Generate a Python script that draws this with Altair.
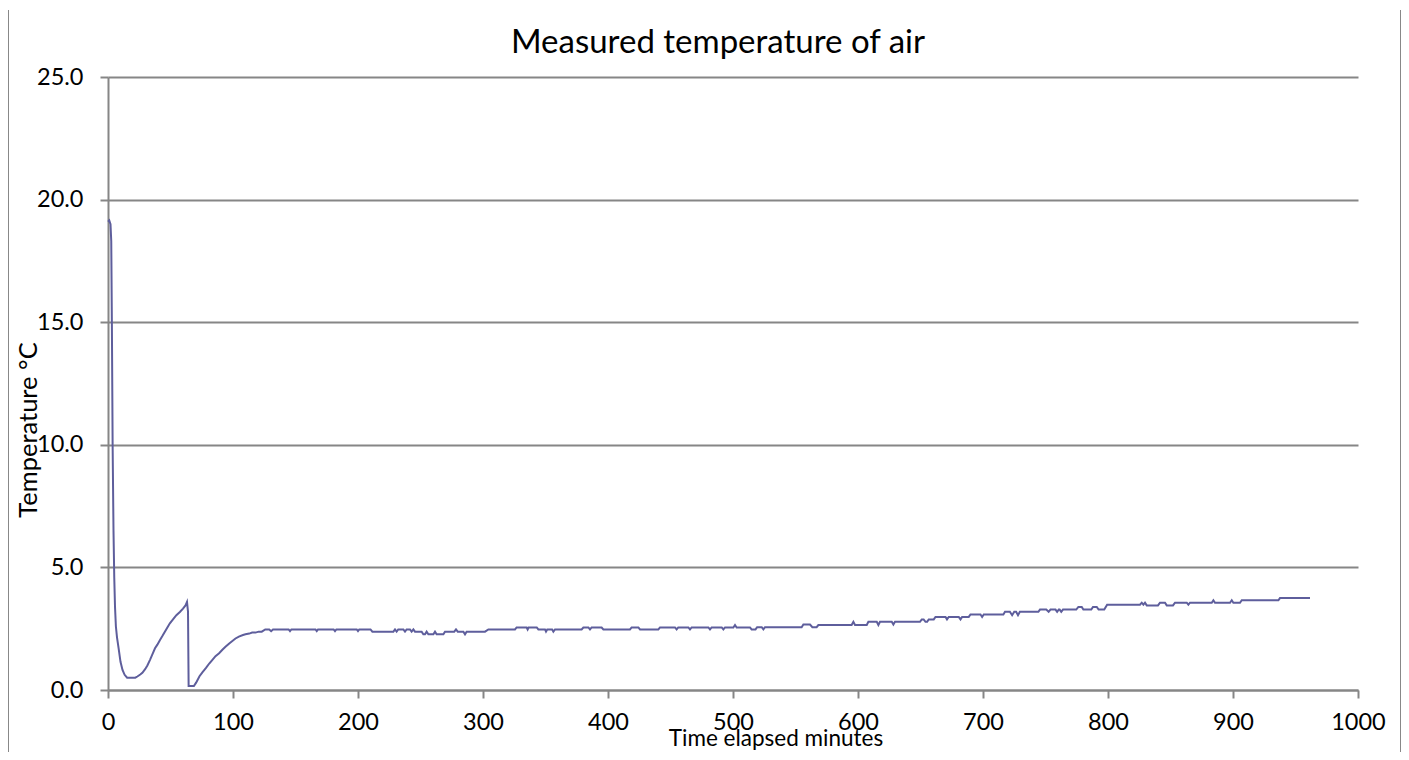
import altair as alt
import pandas as pd

# ---- data (minutes elapsed, temperature °C) ----
seg_cooldown = [
    [0, 19.1], [1, 19.15], [2, 19.0], [2.6, 18.3], [3.1, 15.0], [3.7, 10.0],
    [4.4, 6.5], [5.0, 4.6], [5.6, 3.4], [6.3, 2.6], [7.2, 2.15], [8.5, 1.7],
    [10.0, 1.15], [11.6, 0.82], [13.3, 0.62], [15.3, 0.5], [21.8, 0.5],
]
seg_first_rise = [
    [23.5, 0.55], [25.8, 0.63], [27.5, 0.7], [29.7, 0.85], [31.5, 1.0],
    [33.7, 1.24], [35.5, 1.45], [37.6, 1.7], [39.5, 1.85], [41.6, 2.04],
    [43.5, 2.2], [45.5, 2.38], [47.5, 2.55], [49.5, 2.72], [52, 2.88],
    [54.7, 3.05], [57.5, 3.18], [60, 3.32], [62, 3.45], [63.2, 3.59], [64.0, 3.2],
]
seg_recovery = [
    [64.5, 0.16], [68.7, 0.16], [70.5, 0.3], [73.2, 0.56], [75.5, 0.72],
    [78.4, 0.9], [81, 1.08], [83.7, 1.24], [86, 1.38], [88.9, 1.5],
    [91.5, 1.64], [94.2, 1.77], [97, 1.9], [99.5, 2.0], [102, 2.1],
    [104.7, 2.18], [108, 2.24], [110, 2.27], [113, 2.3], [115.3, 2.34],
    [118, 2.34], [120.5, 2.38], [123, 2.38], [125.8, 2.47], [129, 2.47],
]
seg_plateau = [
    [130.5, 2.4], [132, 2.47], [144.5, 2.47], [145.6, 2.4], [146.7, 2.47],
    [166, 2.47], [167, 2.4], [168, 2.47], [180.5, 2.47], [181.6, 2.4],
    [182.7, 2.47], [199, 2.47], [200, 2.4], [201, 2.47], [210, 2.47],
    [211.5, 2.38], [228.3, 2.38], [229.6, 2.47], [230.9, 2.38], [232.2, 2.47],
    [236.3, 2.47], [237.6, 2.38], [238.9, 2.47], [241.6, 2.47], [242.9, 2.38],
    [244.3, 2.47], [245.6, 2.38], [250.9, 2.38], [252.3, 2.27], [253.6, 2.27],
    [254.9, 2.38], [256.3, 2.27], [260.3, 2.27], [261.6, 2.38], [262.9, 2.27],
    [268.3, 2.27], [269.6, 2.38], [277, 2.38], [278.4, 2.47], [279.8, 2.38],
    [284.3, 2.38], [285.6, 2.27], [286.9, 2.38], [301.6, 2.38], [304.3, 2.47],
    [325.6, 2.47], [326.9, 2.55], [334.9, 2.55], [335.7, 2.47], [336.5, 2.55],
    [343, 2.55], [344.3, 2.47], [349.6, 2.47], [350.4, 2.38], [351.4, 2.47],
    [355.3, 2.47], [356.3, 2.38], [357.6, 2.47], [378.9, 2.47], [380.3, 2.55],
    [384.3, 2.55], [385.6, 2.47], [386.9, 2.55], [394.9, 2.55], [396.3, 2.47],
    [417.6, 2.47], [418.9, 2.55], [424.3, 2.55], [425.6, 2.47], [440.3, 2.47],
    [441.6, 2.55], [453.6, 2.55], [454.9, 2.47], [456.2, 2.55], [464.3, 2.55],
    [465.6, 2.47], [466.9, 2.55], [480.3, 2.55], [481.6, 2.47], [482.9, 2.55],
    [491, 2.55], [492.3, 2.47], [493.6, 2.55], [500.3, 2.55], [501.6, 2.65],
    [502.9, 2.55], [513.6, 2.55], [514.9, 2.47], [518, 2.47], [519.3, 2.56],
    [523, 2.56], [524.3, 2.47], [525.6, 2.56], [554.9, 2.56],
]
seg_slow_warm = [
    [556.3, 2.67], [561.6, 2.67], [563.5, 2.56], [566.9, 2.56], [568.3, 2.65],
    [594.9, 2.65], [596.3, 2.78], [597.6, 2.65], [607, 2.65], [608.3, 2.78],
    [615, 2.78], [616.3, 2.65], [617.6, 2.78], [627, 2.78], [628.3, 2.67],
    [629.6, 2.78], [649.6, 2.78], [651, 2.88], [652.5, 2.88], [654, 2.78],
    [655.3, 2.78], [656.6, 2.88], [660.6, 2.88], [662, 2.98], [670, 2.98],
    [671.2, 2.88], [672.6, 2.98], [680.6, 2.98], [682, 2.88], [683.3, 2.98],
    [688.6, 2.98], [690, 3.08], [698, 3.08], [699.3, 2.98], [700.6, 3.08],
    [716.3, 3.08], [717.6, 3.19], [721.5, 3.19], [723.3, 3.05], [725, 3.19],
    [726.5, 3.19], [728, 3.05], [729.5, 3.19], [744.3, 3.19], [745.6, 3.28],
    [750.6, 3.28], [752.5, 3.19], [754, 3.28], [758, 3.28], [759.3, 3.19],
    [760.6, 3.28], [761.3, 3.28], [762.6, 3.19], [764, 3.28], [774.6, 3.28],
    [776.3, 3.39], [779, 3.39], [780.3, 3.28], [786.6, 3.28], [788, 3.39],
    [791, 3.39], [792.5, 3.28], [797, 3.28], [799.3, 3.48], [825.6, 3.48],
    [827, 3.56], [828.3, 3.48], [829.6, 3.56], [831, 3.45], [840, 3.45],
    [841.6, 3.56], [845.6, 3.56], [847, 3.45], [852, 3.45], [853.6, 3.56],
    [863, 3.56], [864.3, 3.48], [865.6, 3.56], [883, 3.56], [884.3, 3.66],
    [885.6, 3.56], [897.6, 3.56], [899, 3.66], [900.3, 3.56], [905.6, 3.56],
    [907, 3.66], [936.3, 3.66], [937.6, 3.75], [961.6, 3.75],
]

x_ticks = [0, 100, 200, 300, 400, 500, 600, 700, 800, 900, 1000]
y_ticks = [0, 5, 10, 15, 20, 25]

chart_title = "Measured temperature of air"
x_title = "Time elapsed minutes"
y_title = "Temperature °C"

rows = seg_cooldown + seg_first_rise + seg_recovery + seg_plateau + seg_slow_warm
df = pd.DataFrame(rows, columns=["minutes", "temp"])

FONT = "Lato"
GRAY = "#868686"
LABEL_SIZE = 23.5

line = alt.Chart(df).mark_line(color="#5E5E9C", strokeWidth=2).encode(
    x=alt.X(
        "minutes:Q",
        scale=alt.Scale(domain=[0, 1000], nice=False, zero=False),
        axis=alt.Axis(
            values=x_ticks, format="d", grid=False, title=None, tickSize=8,
            tickWidth=2, tickColor=GRAY, domainColor=GRAY, domainWidth=2,
            labelFont=FONT, labelFontSize=LABEL_SIZE, labelColor="black",
            labelPadding=12, labelFlush=False,
        ),
    ),
    y=alt.Y(
        "temp:Q",
        scale=alt.Scale(domain=[0, 25], nice=False),
        axis=alt.Axis(
            values=y_ticks, format=".1f", grid=True, gridColor=GRAY, gridWidth=2,
            title=None, tickSize=8, tickWidth=2, tickColor=GRAY,
            domainColor=GRAY, domainWidth=2, labelFont=FONT,
            labelFontSize=LABEL_SIZE, labelColor="black", labelPadding=17,
        ),
    ),
)

one = alt.Data(values=[{"k": 1}])

title_text = alt.Chart(one).mark_text(
    font=FONT, fontSize=33, color="black", align="center", baseline="alphabetic"
).encode(x=alt.value(610), y=alt.value(-24), text=alt.value(chart_title))

xtitle_text = alt.Chart(one).mark_text(
    font=FONT, fontSize=22.5, color="black", align="center", baseline="alphabetic"
).encode(x=alt.value(668), y=alt.value(669), text=alt.value(x_title))

ytitle_text = alt.Chart(one).mark_text(
    font=FONT, fontSize=25.5, color="black", align="center", baseline="alphabetic",
    angle=270,
).encode(x=alt.value(-71), y=alt.value(353), text=alt.value(y_title))

frame_left = alt.Chart(one).mark_rule(color="#888888", strokeWidth=2).encode(
    x=alt.value(-100), y=alt.value(-67), y2=alt.value(720)
)
frame_right = alt.Chart(one).mark_rule(color="#888888", strokeWidth=2).encode(
    x=alt.value(1293), y=alt.value(-67), y2=alt.value(720)
)

chart = alt.layer(
    line, title_text, xtitle_text, ytitle_text, frame_left, frame_right
).properties(
    width=1250,
    height=613,
    autosize=alt.AutoSizeParams(type="none"),
    padding={"left": 100, "top": 69, "right": 43, "bottom": 62},
    background="white",
).configure_view(stroke=None)

chart.save("out.html", embed_options={"renderer": "svg", "actions": False})
